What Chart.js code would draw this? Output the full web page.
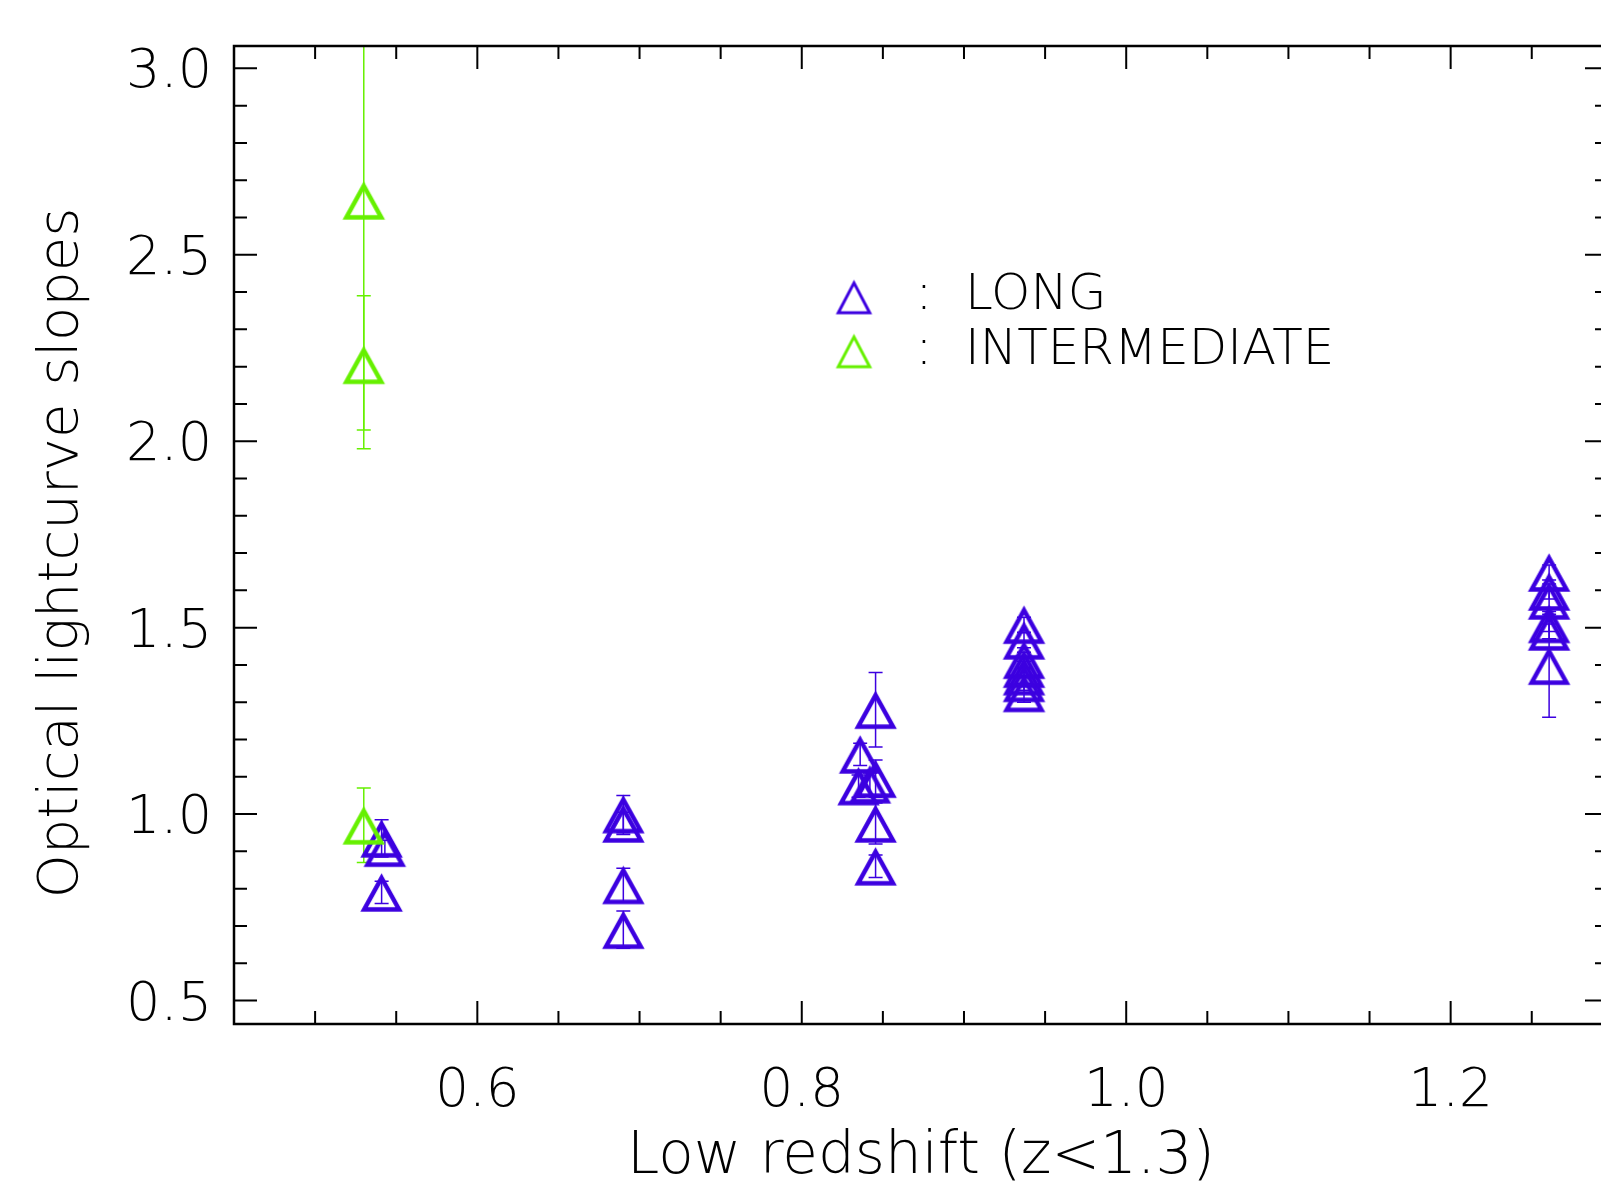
<!DOCTYPE html>
<html>
<head>
<meta charset="utf-8">
<script src="https://cdn.jsdelivr.net/npm/chart.js@4.4.0/dist/chart.umd.min.js"></script>
<style>
  html, body { margin: 0; padding: 0; background: #fff; overflow: hidden; }
  #wrap { position: relative; width: 1612px; height: 1183px; }
</style>
</head>
<body>
<div id="wrap"><canvas id="myChart"></canvas></div>
<script>
// redshift / slope values
const longZ = [0.541, 0.543, 0.541, 0.690, 0.690, 0.690, 0.690,
  0.8455, 0.836, 0.8455, 0.835, 0.842, 0.8455, 0.8455,
  0.937, 0.937, 0.937, 0.937, 0.937, 0.937, 0.937,
  1.2607, 1.2607, 1.2607, 1.2607, 1.2607, 1.2607];
const longSlope = [0.935, 0.91, 0.79, 1.00, 0.975, 0.81, 0.69,
  1.28, 1.16, 1.095, 1.075, 1.08, 0.975, 0.86,
  1.508, 1.466, 1.414, 1.39, 1.37, 1.352, 1.325,
  1.648, 1.597, 1.573, 1.51, 1.49, 1.398];
const longErr = [0.05, 0.02, 0.03, 0.05, 0.03, 0.045, 0.05,
  0.10, 0.03, 0.05, 0.03, 0.03, 0.055, 0.03,
  0.02, 0.02, 0.02, 0.02, 0.02, 0.02, 0.025,
  0.02, 0.02, 0.03, 0.02, 0.02, 0.138];

const intZ = [0.530, 0.530, 0.530];
const intSlope = [2.646, 2.205, 0.970];
const intErrMinus = [0.616, 0.225, 0.10];
const intErrPlus = [0.61, 0.185, 0.10];

const xTicks = [0.6, 0.8, 1.0, 1.2];
const yTicks = [0.5, 1.0, 1.5, 2.0, 2.5, 3.0];
const yTitle = 'Optical lightcurve slopes';

const BLUE = '#3c00e0';
const GREEN = '#66f000';
const FONT = "'DejaVu Sans', sans-serif";
const WEIGHT = '200';

function makeTriangle(color, w, h, lw) {
  const c = document.createElement('canvas');
  c.width = Math.ceil(w) + 8;
  c.height = Math.ceil(h) + 8;
  const g = c.getContext('2d');
  const cx = c.width / 2, cy = c.height / 2;
  g.strokeStyle = color;
  g.lineWidth = lw;
  g.lineJoin = 'miter';
  g.beginPath();
  g.moveTo(cx, cy - h / 2 + lw * 1.05);
  g.lineTo(cx + w / 2 - lw * 0.85, cy + h / 2 - lw / 2);
  g.lineTo(cx - w / 2 + lw * 0.85, cy + h / 2 - lw / 2);
  g.closePath();
  g.stroke();
  return c;
}

const blueTri = makeTriangle(BLUE, 42.5, 38.5, 4.5);
const greenTri = makeTriangle(GREEN, 42.5, 38.5, 4.5);
const blueTriSmall = makeTriangle(BLUE, 36.5, 34.5, 3);
const greenTriSmall = makeTriangle(GREEN, 36.5, 34.5, 3);

// no extra padding from tick labels, the box is placed by hand
function noPad(s) {
  s.paddingTop = 0; s.paddingBottom = 0;
  s.paddingLeft = 0; s.paddingRight = 0;
}

// error bars, drawn under the markers
const errorBars = {
  id: 'errorBars',
  beforeDatasetsDraw(chart) {
    const { ctx, chartArea: a, scales: { x, y } } = chart;
    ctx.save();
    ctx.beginPath();
    ctx.rect(a.left, a.top, a.right - a.left, a.bottom - a.top);
    ctx.clip();
    chart.data.datasets.forEach(ds => {
      ctx.strokeStyle = ds.borderColor;
      ctx.lineWidth = 1.5;
      ds.data.forEach((p, i) => {
        const px = x.getPixelForValue(p.x);
        const top = y.getPixelForValue(p.y + ds.errPlus[i]);
        const bot = y.getPixelForValue(p.y - ds.errMinus[i]);
        ctx.beginPath();
        ctx.moveTo(px, top); ctx.lineTo(px, bot);
        ctx.moveTo(px - 7, top); ctx.lineTo(px + 7, top);
        ctx.moveTo(px - 7, bot); ctx.lineTo(px + 7, bot);
        ctx.stroke();
      });
    });
    ctx.restore();
  }
};

// box with inward ticks on all four sides
const frameTicks = {
  id: 'frameTicks',
  afterDraw(chart) {
    const { ctx, chartArea: a, scales: { x, y } } = chart;
    const xMinor = [], yMinor = [];
    for (let v = 0.5; v < 1.3; v += 0.05) xMinor.push(+v.toFixed(2));
    for (let v = 0.5; v <= 3.0001; v += 0.1) yMinor.push(+v.toFixed(1));
    ctx.save();
    ctx.strokeStyle = '#000';
    ctx.lineWidth = 2;
    ctx.beginPath();
    xMinor.forEach(v => {
      const len = xTicks.some(t => Math.abs(t - v) < 1e-6) ? 23 : 13;
      const px = x.getPixelForValue(v);
      ctx.moveTo(px, a.bottom); ctx.lineTo(px, a.bottom - len);
      ctx.moveTo(px, a.top); ctx.lineTo(px, a.top + len);
    });
    yMinor.forEach(v => {
      const len = yTicks.some(t => Math.abs(t - v) < 1e-6) ? 23 : 13;
      const py = y.getPixelForValue(v);
      ctx.moveTo(a.left, py); ctx.lineTo(a.left + len, py);
      ctx.moveTo(a.right, py); ctx.lineTo(a.right - len, py);
    });
    ctx.stroke();
    ctx.lineWidth = 2.5;
    ctx.strokeRect(a.left, a.top, a.right - a.left, a.bottom - a.top);

    // y axis title, sits a little below the middle of the box
    ctx.fillStyle = '#000';
    ctx.font = WEIGHT + ' 56px ' + FONT;
    ctx.textAlign = 'center';
    ctx.textBaseline = 'alphabetic';
    ctx.translate(77, 553);
    ctx.rotate(-Math.PI / 2);
    ctx.fillText(yTitle, 0, 0);
    ctx.restore();
  }
};

const legendBox = {
  id: 'legendBox',
  afterDraw(chart) {
    const { ctx } = chart;
    const rows = [
      { img: blueTriSmall, label: chart.data.datasets[1].label, ty: 297, y: 296 },
      { img: greenTriSmall, label: chart.data.datasets[0].label, ty: 351, y: 351 }
    ];
    ctx.save();
    ctx.fillStyle = '#000';
    ctx.font = WEIGHT + ' 50px ' + FONT;
    ctx.textBaseline = 'middle';
    rows.forEach(r => {
      ctx.drawImage(r.img, 854 - r.img.width / 2, r.ty - r.img.height / 2);
      ctx.textAlign = 'center';
      ctx.fillText(':', 924, r.y);
      ctx.textAlign = 'left';
      ctx.fillText(r.label, 965, r.y);
    });
    ctx.restore();
  }
};

const ctx = document.getElementById('myChart');
const myChart = new Chart(ctx, {
  type: 'scatter',
  data: {
    datasets: [
      {
        label: 'INTERMEDIATE',
        data: intZ.map((z, i) => ({ x: z, y: intSlope[i] })),
        errMinus: intErrMinus,
        errPlus: intErrPlus,
        borderColor: GREEN,
        pointStyle: greenTri,
        pointRadius: 20,
        order: 0
      },
      {
        label: 'LONG',
        data: longZ.map((z, i) => ({ x: z, y: longSlope[i] })),
        errMinus: longErr,
        errPlus: longErr,
        borderColor: BLUE,
        pointStyle: blueTri,
        pointRadius: 20,
        order: 1
      }
    ]
  },
  options: {
    responsive: true,
    maintainAspectRatio: false,
    devicePixelRatio: 1,
    animation: false,
    layout: { autoPadding: false, padding: { top: 46, right: 4, left: 0, bottom: 0 } },
    plugins: {
      legend: { display: false },
      tooltip: { enabled: false }
    },
    scales: {
      x: {
        type: 'linear',
        min: 0.45,
        max: 1.297,
        afterFit: s => { s.height = 159; noPad(s); },
        afterBuildTicks: s => { s.ticks = xTicks.map(v => ({ value: v })); },
        grid: { display: false, drawTicks: false },
        border: { display: false },
        ticks: {
          padding: 36,
          color: '#000',
          font: { family: FONT, size: 53, weight: WEIGHT },
          callback: v => v.toFixed(1),
          maxRotation: 0
        },
        title: {
          display: true,
          text: 'Low redshift (z<1.3)',
          color: '#000',
          font: { family: FONT, size: 58, weight: WEIGHT, lineHeight: 0.86 },
          padding: { top: 0, bottom: 0 }
        }
      },
      y: {
        type: 'linear',
        min: 0.437,
        max: 3.06,
        afterFit: s => { s.width = 234; noPad(s); },
        afterBuildTicks: s => { s.ticks = yTicks.map(v => ({ value: v })); },
        grid: { display: false, drawTicks: false },
        border: { display: false },
        ticks: {
          padding: 22,
          labelOffset: 5,
          color: '#000',
          font: { family: FONT, size: 54, weight: WEIGHT },
          callback: v => v.toFixed(1)
        }
      }
    }
  },
  plugins: [errorBars, frameTicks, legendBox]
});
</script>
</body>
</html>
